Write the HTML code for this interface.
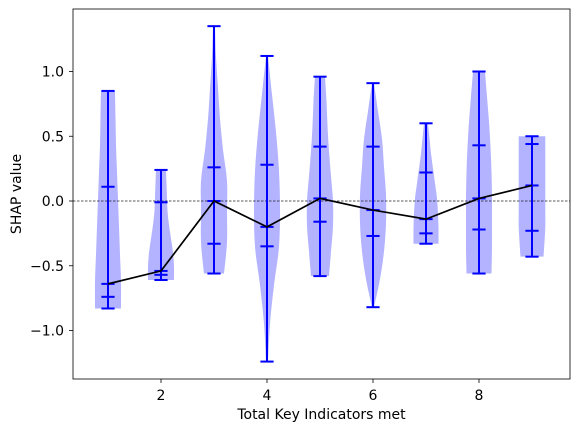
<!DOCTYPE html>
<html><head><meta charset="utf-8"><style>
body{margin:0;background:#fff}
svg{display:block;font-family:"DejaVu Sans","Liberation Sans",sans-serif}
</style></head><body>
<svg id="chart" width="579" height="432" viewBox="0 0 579 432" xmlns="http://www.w3.org/2000/svg">
<g id="plot"></g>
<rect x="73" y="9" width="497" height="370" fill="none" stroke="#000" stroke-width="0.8"/>
<text x="321.5" y="419" font-size="14" text-anchor="middle">Total Key Indicators met</text>
<text transform="translate(21,194) rotate(-90)" font-size="14" text-anchor="middle">SHAP value</text>
</svg>
<script>
const categories = [1,2,3,4,5,6,7,8,9];
const mins    = [-0.83,-0.61,-0.56,-1.24,-0.58,-0.82,-0.33,-0.56,-0.43];
const q1      = [-0.74,-0.57,-0.33,-0.35,-0.16,-0.27,-0.25,-0.22,-0.23];
const medians = [-0.64,-0.54,0.00,-0.20,0.02,-0.07,-0.14,0.02,0.12];
const q3      = [0.11,-0.01,0.26,0.28,0.42,0.42,0.22,0.43,0.44];
const maxs    = [0.85,0.24,1.35,1.12,0.96,0.91,0.60,1.00,0.50];
// half-width density profiles (x units), 9 samples from min to max
const profiles = [
 [0.245,0.245,0.226,0.208,0.189,0.170,0.151,0.142,0.132],
 [0.245,0.245,0.226,0.189,0.151,0.123,0.113,0.104,0.094],
 [0.189,0.245,0.245,0.245,0.170,0.113,0.075,0.038,0.019],
 [0.019,0.057,0.132,0.226,0.245,0.226,0.170,0.094,0.019],
 [0.170,0.208,0.245,0.245,0.208,0.170,0.142,0.123,0.094],
 [0.019,0.132,0.208,0.245,0.245,0.208,0.170,0.094,0.019],
 [0.236,0.236,0.226,0.208,0.170,0.132,0.094,0.066,0.038],
 [0.236,0.245,0.245,0.245,0.236,0.217,0.189,0.151,0.113],
 [0.217,0.236,0.251,0.251,0.251,0.251,0.251,0.251,0.251]
];
const xTicks = [2,4,6,8];
const yTicks = [-1.0,-0.5,0.0,0.5,1.0];
const yTickLabels = ["−1.0","−0.5","0.0","0.5","1.0"];

const NS="http://www.w3.org/2000/svg";
const X = v => 108 + (v-1)*53;
const Y = v => 201 - v*129.5;
const W = u => u*53;
const plot=document.getElementById('plot');
const svg=document.getElementById('chart');
function mk(tag,attrs,parent){const e=document.createElementNS(NS,tag);for(const k in attrs)e.setAttribute(k,attrs[k]);(parent||plot).appendChild(e);return e;}
function smooth(pts){
  let d='';
  for(let i=0;i<pts.length-1;i++){
    const p0=pts[Math.max(0,i-1)],p1=pts[i],p2=pts[i+1],p3=pts[Math.min(pts.length-1,i+2)];
    const c1=[p1[0]+(p2[0]-p0[0])/6,p1[1]+(p2[1]-p0[1])/6];
    const c2=[p2[0]-(p3[0]-p1[0])/6,p2[1]-(p3[1]-p1[1])/6];
    d+=` C${c1[0]},${c1[1]} ${c2[0]},${c2[1]} ${p2[0]},${p2[1]}`;
  }
  return d;
}

categories.forEach((c,i)=>{
  const cx=X(c), p=profiles[i], lo=mins[i], hi=maxs[i], n=p.length-1;
  const right=p.map((w,j)=>[cx+W(w),Y(lo+(hi-lo)*j/n)]);
  const left=p.map((w,j)=>[cx-W(w),Y(lo+(hi-lo)*j/n)]).reverse();
  let d=`M${right[0][0]},${right[0][1]}`+smooth(right)+` L${left[0][0]},${left[0][1]}`+smooth(left)+'Z';
  const body=mk('path',{d:d,fill:'#b3b3ff',stroke:'none'});
  
  
});

const zl=mk('line',{x1:73,x2:570,y1:Y(0),y2:Y(0),stroke:'#222','stroke-width':0.8,'stroke-dasharray':'2.5,1.5'});



categories.forEach((c,i)=>{
  const cx=X(c), lo=mins[i], hi=maxs[i];
  const g=mk('g',{stroke:'#0000ff','stroke-width':2});
  
  
  mk('line',{x1:cx,x2:cx,y1:Y(hi),y2:Y(lo)},g);
  [lo,q1[i],medians[i],q3[i],hi].forEach(v=>mk('line',{x1:cx-6.6,x2:cx+6.6,y1:Y(v),y2:Y(v)},g));
});

const line=mk('polyline',{points:categories.map((c,i)=>X(c)+','+Y(medians[i])).join(' '),fill:'none',stroke:'#000','stroke-width':1.7});



xTicks.forEach(t=>{
  const tk=mk('line',{x1:X(t),x2:X(t),y1:379,y2:383,stroke:'#000','stroke-width':0.8},svg);
  
  
  const tl=mk('text',{x:X(t),y:400,'font-size':14,'text-anchor':'middle'},svg);
  tl.textContent=t;
  
  
});
yTicks.forEach((t,i)=>{
  const tk=mk('line',{x1:69,x2:73,y1:Y(t),y2:Y(t),stroke:'#000','stroke-width':0.8},svg);
  
  
  const tl=mk('text',{x:64,y:Y(t)+5,'font-size':14,'text-anchor':'end'},svg);
  tl.textContent=yTickLabels[i];
  
  
});
</script>
</body></html>
